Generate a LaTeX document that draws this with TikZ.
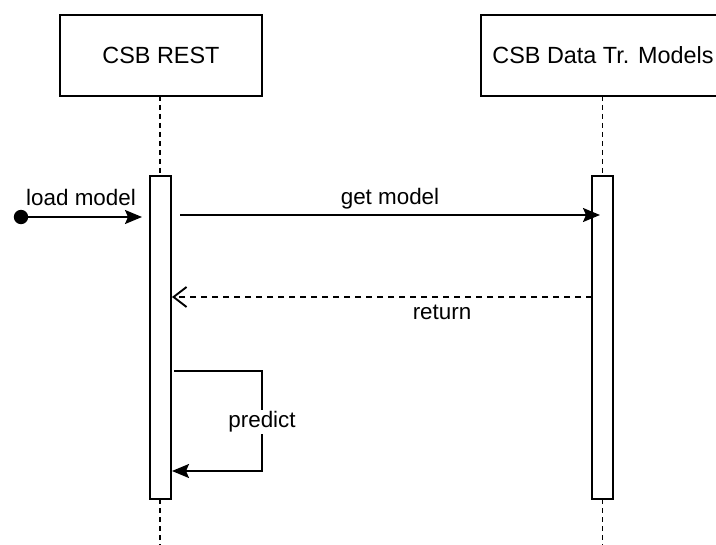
\documentclass[tikz,border=0pt]{standalone}
\usepackage{fontspec}
\setmainfont{Liberation Sans}
\usetikzlibrary{arrows.meta}
\begin{document}
\begin{tikzpicture}[x=0.5pt,y=-0.5pt,
  headbox/.style={draw, line width=1pt, minimum height=40.5pt, inner sep=0pt, font=\fontsize{11.7pt}{14pt}\selectfont},
  actbox/.style={draw, fill=white, line width=1pt, minimum width=10.5pt, minimum height=161.5pt, inner sep=0pt},
  lifeline/.style={line width=0.9pt, dash pattern=on 2.5pt off 2pt},
  msg/.style={line width=0.95pt},
  lbl/.style={font=\fontsize{11.2pt}{13pt}\selectfont, inner sep=1pt},
  filledtip/.style={-{Stealth[length=8.5pt,width=7pt,inset=1.5pt]}},
  opentip/.style={-{Straight Barb[length=6.5pt,width=10pt,line width=0.95pt]}}
]
\useasboundingbox (0,0) rectangle (716,545);
\clip (0,0) rectangle (716,545);
\fill[white] (0,0) rectangle (716,545);

% heads
\node[headbox, minimum width=101pt] (h1) at (161,55.5) {CSB REST};
\node[headbox, minimum width=122pt] (h2) at (603,55.5) {CSB Data Tr. Models};

% lifelines
\coordinate (e1) at (160,545);
\coordinate (e2) at (602.5,545);
\draw[lifeline] (160,96) -- (160,176);
\draw[lifeline] (602.5,96) -- (602.5,176);
\draw[lifeline] (160,499) -- (e1);
\draw[lifeline] (602.5,499) -- (e2);

% activations
\node[actbox] (a1) at (160,337.5) {};
\node[actbox] (a2) at (602.5,337.5) {};

% load model
\coordinate (start) at (21,217);
\coordinate (lmEnd) at (142,217);
\fill (start) circle (3.6pt);
\draw[msg, filledtip] (start) -- (lmEnd);
\node[lbl] (lLoad) at (81,197) {load model};

% get model
\coordinate (gmS) at (180,215);
\coordinate (gmE) at (600,215);
\draw[msg, filledtip] (gmS) -- (gmE);
\node[lbl] (lGet) at (390,199) {get model};

% return
\coordinate (rS) at (592,297);
\coordinate (rE) at (172,297);
\draw[msg, opentip, dash pattern=on 3pt off 2.5pt] (rS) -- (rE);
\node[lbl] (lRet) at (442,312) {return};

% predict
\coordinate (pS) at (174,371);
\coordinate (pA) at (262,371);
\coordinate (pB) at (262,471);
\coordinate (pE) at (172,471);
\draw[msg, filledtip] (pS) -- (pA) -- (pB) -- (pE);
\node[lbl, fill=white] (lPred) at (262,422) {predict};
\end{tikzpicture}
\end{document}
